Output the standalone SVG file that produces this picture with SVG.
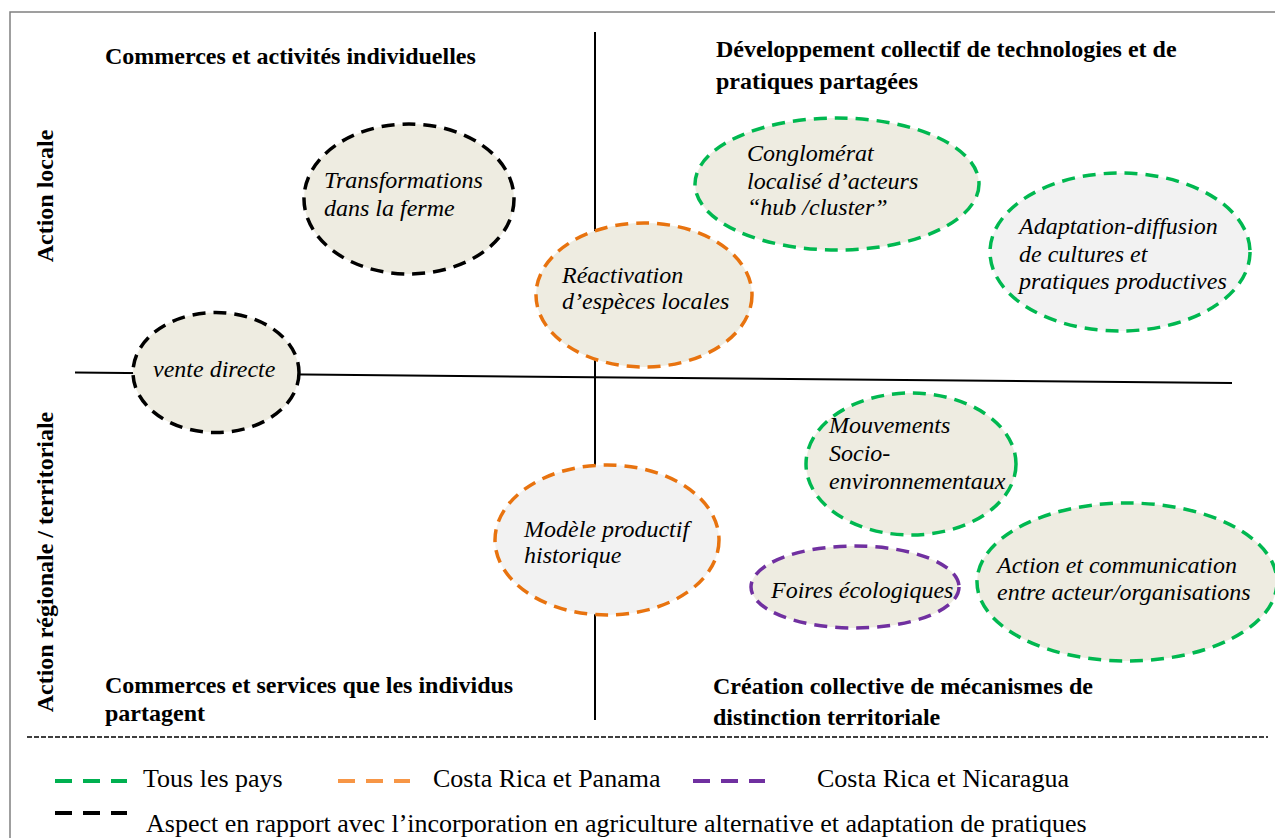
<svg xmlns="http://www.w3.org/2000/svg" width="1275" height="838" viewBox="0 0 1275 838">
<style>
.frame{fill:none;stroke:#808080;stroke-width:1.5}
.axis{fill:none;stroke:#000;stroke-width:2}
.sep{fill:none;stroke:#000;stroke-width:1.5;stroke-dasharray:5 2}
.el{stroke-width:3.5;stroke-dasharray:13 8}
.beige{fill:#eeece1}
.grey{fill:#f2f2f2}
.g{stroke:#00b850}
.o{stroke:#e8730f}
.p{stroke:#7030a0}
.k{stroke:#000}
.lg{fill:none;stroke-width:4;stroke-dasharray:17 11}
.it{font-family:"Liberation Serif","Times New Roman",serif;font-style:italic;font-size:24px;fill:#000}
.bd{font-family:"Liberation Serif","Times New Roman",serif;font-weight:bold;font-size:24px;fill:#000}
.rg{font-family:"Liberation Serif","Times New Roman",serif;font-size:26px;fill:#000}
</style>
<rect width="1275" height="838" fill="#fff"/>
<g id="frame">
<path class="frame" d="M10 838 V12 H1275"/>
</g>
<g id="connectors">
<line class="axis" x1="595" y1="32" x2="595" y2="720"/>
<line class="axis" x1="75" y1="372.5" x2="1232" y2="383"/>
<line class="sep" x1="27" y1="737" x2="1268" y2="737"/>
</g>
<g id="axis-labels">
<text class="bd" text-anchor="middle" transform="translate(53,196) rotate(-90)">Action locale</text>
<text class="bd" text-anchor="middle" transform="translate(53,562) rotate(-90)">Action régionale / territoriale</text>
</g>
<g id="quadrant-titles">
<text class="bd" x="105" y="64">Commerces et activités individuelles</text>
<text class="bd" x="716" y="57">Développement collectif de technologies et de</text>
<text class="bd" x="716" y="89">pratiques partagées</text>
<text class="bd" x="105" y="693">Commerces et services que les individus</text>
<text class="bd" x="105" y="721">partagent</text>
<text class="bd" x="713" y="694">Création collective de mécanismes de</text>
<text class="bd" x="713" y="725">distinction territoriale</text>
</g>
<g id="node-vente">
<ellipse class="el beige k" cx="216" cy="372.5" rx="83" ry="60"/>
<text class="it" x="153" y="377">vente directe</text>
</g>
<g id="node-transformations">
<ellipse class="el beige k" cx="409" cy="199" rx="105" ry="75"/>
<text class="it" x="324" y="188">Transformations</text>
<text class="it" x="324" y="216">dans la ferme</text>
</g>
<g id="node-reactivation">
<ellipse class="el beige o" cx="644" cy="295" rx="108" ry="72"/>
<text class="it" x="562" y="283">Réactivation</text>
<text class="it" x="562" y="309">d’espèces locales</text>
</g>
<g id="node-conglomerat">
<ellipse class="el beige g" cx="837" cy="184" rx="142" ry="66"/>
<text class="it" x="747" y="161">Conglomérat</text>
<text class="it" x="747" y="189">localisé d’acteurs</text>
<text class="it" x="747" y="215">“hub /cluster”</text>
</g>
<g id="node-adaptation">
<ellipse class="el grey g" cx="1120" cy="252" rx="130" ry="79"/>
<text class="it" x="1019" y="234">Adaptation-diffusion</text>
<text class="it" x="1019" y="262">de cultures et</text>
<text class="it" x="1019" y="289">pratiques productives</text>
</g>
<g id="node-mouvements">
<ellipse class="el beige g" cx="911" cy="464" rx="105" ry="71"/>
<text class="it" x="829" y="433">Mouvements</text>
<text class="it" x="829" y="461">Socio-</text>
<text class="it" x="829" y="489">environnementaux</text>
</g>
<g id="node-modele">
<ellipse class="el grey o" cx="607" cy="540" rx="112" ry="75"/>
<text class="it" x="524" y="537">Modèle productif</text>
<text class="it" x="524" y="563">historique</text>
</g>
<g id="node-foires">
<ellipse class="el beige p" cx="855" cy="587" rx="104" ry="41"/>
<text class="it" x="771" y="598">Foires écologiques</text>
</g>
<g id="node-action">
<ellipse class="el beige g" cx="1127" cy="582" rx="150" ry="79"/>
<text class="it" x="997" y="573">Action et communication</text>
<text class="it" x="997" y="600">entre acteur/organisations</text>
</g>
<g id="legend">
<line class="lg" x1="55" y1="781" x2="127" y2="781" stroke="#00b050"/>
<text class="rg" x="143" y="787">Tous les pays</text>
<line class="lg" x1="338" y1="781" x2="410" y2="781" stroke="#f79646"/>
<text class="rg" x="433" y="787">Costa Rica et Panama</text>
<line class="lg" x1="693" y1="781" x2="765" y2="781" stroke="#7030a0"/>
<text class="rg" x="817" y="787">Costa Rica et Nicaragua</text>
<line class="lg" x1="55" y1="813" x2="127" y2="813" stroke="#000"/>
<text class="rg" x="146" y="832">Aspect en rapport avec l’incorporation en agriculture alternative et adaptation de pratiques</text>
</g>
</svg>
